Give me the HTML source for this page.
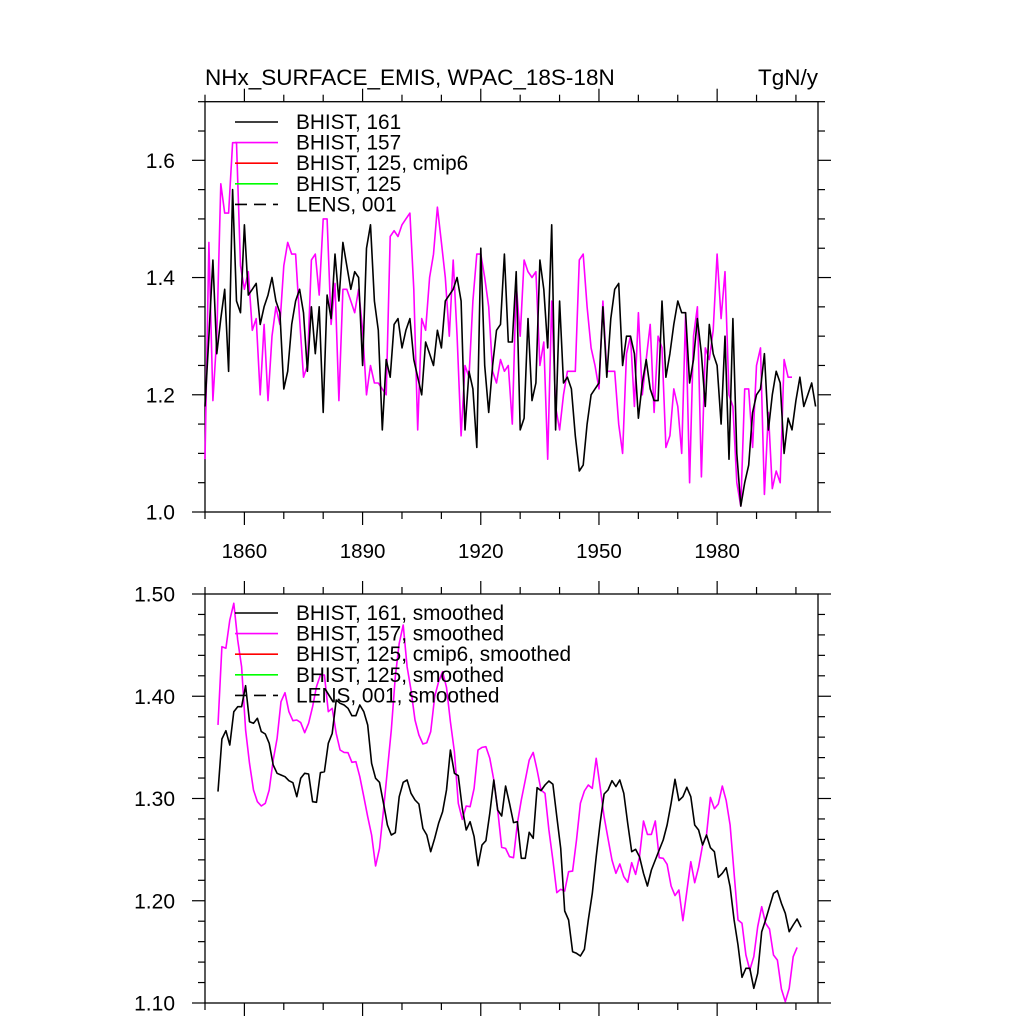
<!DOCTYPE html>
<html><head><meta charset="utf-8"><style>
html,body{margin:0;padding:0;background:#fff;}
svg{display:block;font-family:"Liberation Sans",sans-serif;}
</style></head><body>
<svg id="chart" width="1024" height="1024" viewBox="0 0 1024 1024">
<text x="205" y="85" font-size="22.5">NHx_SURFACE_EMIS, WPAC_18S-18N</text>
<text x="818" y="85" font-size="22.5" text-anchor="end">TgN/y</text>
<g id="top"></g><g id="bot"></g>
</svg>
<script>
const rawStartYear = 1850;
const rawBlack = [1.18,1.30,1.43,1.27,1.33,1.38,1.24,1.55,1.36,1.34,1.49,1.37,1.38,1.39,1.32,1.35,1.37,1.40,1.36,1.34,1.21,1.24,1.32,1.36,1.38,1.34,1.24,1.35,1.27,1.35,1.17,1.37,1.33,1.44,1.36,1.46,1.42,1.38,1.41,1.40,1.25,1.45,1.49,1.36,1.31,1.14,1.26,1.23,1.32,1.33,1.28,1.31,1.33,1.26,1.23,1.20,1.29,1.27,1.25,1.31,1.28,1.36,1.37,1.38,1.40,1.36,1.14,1.24,1.21,1.11,1.45,1.25,1.17,1.25,1.31,1.32,1.44,1.29,1.29,1.41,1.14,1.16,1.33,1.19,1.22,1.43,1.38,1.28,1.49,1.14,1.36,1.22,1.23,1.21,1.13,1.07,1.08,1.15,1.20,1.21,1.22,1.35,1.23,1.33,1.38,1.39,1.25,1.30,1.30,1.27,1.16,1.22,1.26,1.21,1.19,1.19,1.36,1.23,1.27,1.32,1.36,1.34,1.34,1.22,1.26,1.33,1.27,1.18,1.32,1.27,1.25,1.15,1.30,1.09,1.33,1.10,1.01,1.05,1.08,1.17,1.20,1.21,1.27,1.14,1.20,1.24,1.22,1.10,1.16,1.14,1.19,1.23,1.18,1.20,1.22,1.18];
const rawMagenta = [1.09,1.46,1.19,1.30,1.56,1.51,1.51,1.63,1.63,1.42,1.38,1.41,1.31,1.33,1.20,1.32,1.19,1.30,1.35,1.32,1.42,1.46,1.44,1.44,1.33,1.23,1.25,1.43,1.44,1.37,1.50,1.50,1.32,1.39,1.19,1.38,1.38,1.36,1.34,1.38,1.31,1.20,1.25,1.22,1.22,1.21,1.20,1.47,1.48,1.47,1.49,1.50,1.51,1.38,1.14,1.33,1.31,1.40,1.44,1.52,1.46,1.40,1.30,1.43,1.30,1.13,1.25,1.23,1.36,1.44,1.44,1.40,1.35,1.24,1.22,1.26,1.24,1.25,1.15,1.39,1.30,1.43,1.41,1.40,1.41,1.25,1.29,1.09,1.36,1.18,1.14,1.20,1.24,1.24,1.24,1.43,1.44,1.35,1.28,1.25,1.21,1.36,1.24,1.24,1.24,1.15,1.10,1.27,1.30,1.18,1.34,1.20,1.26,1.32,1.17,1.30,1.28,1.11,1.13,1.21,1.18,1.10,1.34,1.05,1.30,1.35,1.06,1.28,1.26,1.31,1.44,1.33,1.41,1.20,1.18,1.05,1.01,1.21,1.21,1.11,1.25,1.28,1.03,1.17,1.04,1.07,1.05,1.26,1.23,1.23];
const smoothStartYear = 1853.3;
const smoothBlack = [1.3067,1.3582,1.3663,1.3523,1.3849,1.3898,1.3898,1.4103,1.3751,1.3735,1.3784,1.3654,1.3631,1.354,1.3328,1.3246,1.323,1.3213,1.3174,1.3155,1.3018,1.3198,1.3246,1.324,1.2969,1.2963,1.3252,1.3262,1.354,1.3637,1.3963,1.3931,1.3914,1.3882,1.381,1.381,1.3914,1.3849,1.3719,1.3344,1.3198,1.3158,1.2953,1.2741,1.2643,1.2666,1.3018,1.3158,1.3181,1.3051,1.2985,1.2946,1.2708,1.2643,1.248,1.2611,1.2757,1.2871,1.3083,1.3474,1.3246,1.3223,1.2904,1.2692,1.2773,1.2627,1.2343,1.2545,1.2587,1.2855,1.3181,1.2887,1.2829,1.3122,1.2953,1.2764,1.2773,1.2415,1.2415,1.2669,1.2611,1.3106,1.3077,1.3132,1.3171,1.3139,1.2822,1.2513,1.19,1.1812,1.1502,1.1486,1.146,1.1525,1.1812,1.2072,1.2431,1.2757,1.3044,1.3083,1.3174,1.3116,1.3181,1.3051,1.2757,1.248,1.2503,1.2431,1.2268,1.2144,1.2301,1.2399,1.2496,1.2594,1.2741,1.2953,1.3188,1.2979,1.3018,1.311,1.3018,1.2741,1.2692,1.2545,1.2643,1.2519,1.248,1.2229,1.2268,1.2323,1.2137,1.1812,1.1567,1.1251,1.1339,1.1339,1.1144,1.129,1.1697,1.1812,1.1942,1.2072,1.2098,1.1975,1.1877,1.1697,1.1763,1.1822,1.174];
const smoothMagenta = [1.372,1.4485,1.447,1.4746,1.4909,1.455,1.4289,1.367,1.3344,1.3083,1.2969,1.2927,1.2953,1.3083,1.3376,1.3588,1.3947,1.4035,1.3849,1.3761,1.3768,1.3742,1.3644,1.3735,1.3898,1.4094,1.4208,1.4208,1.3849,1.3882,1.3637,1.3474,1.3451,1.3448,1.3354,1.336,1.3213,1.3018,1.2822,1.2643,1.234,1.2512,1.2887,1.3279,1.367,1.4191,1.4517,1.4697,1.4289,1.4061,1.3768,1.3621,1.3533,1.3546,1.3653,1.3996,1.4142,1.424,1.4087,1.3751,1.3458,1.2953,1.2796,1.2927,1.292,1.3099,1.3474,1.35,1.3507,1.3393,1.3181,1.2887,1.2522,1.2512,1.2431,1.2421,1.2757,1.2985,1.3181,1.3376,1.3451,1.3279,1.3083,1.305,1.2692,1.2398,1.2079,1.2112,1.2095,1.2284,1.229,1.2594,1.2953,1.3073,1.3132,1.3099,1.3393,1.3116,1.2822,1.261,1.2398,1.2268,1.2359,1.2235,1.218,1.2372,1.2258,1.2431,1.278,1.2649,1.2649,1.278,1.2421,1.2415,1.2356,1.2144,1.205,1.2105,1.1805,1.2089,1.2382,1.2177,1.2327,1.2545,1.2643,1.3011,1.29,1.2946,1.3122,1.2979,1.2741,1.2268,1.1812,1.1779,1.1469,1.1323,1.1453,1.1746,1.1942,1.1779,1.1724,1.1469,1.142,1.1137,1.1013,1.1143,1.1453,1.1544];
const xTickLabels = ["1860","1890","1920","1950","1980"];
const topYLabels = ["1.0","1.2","1.4","1.6"];
const botYLabels = ["1.10","1.20","1.30","1.40","1.50"];
const topLegend = ["BHIST, 161","BHIST, 157","BHIST, 125, cmip6","BHIST, 125","LENS, 001"];
const botLegend = ["BHIST, 161, smoothed","BHIST, 157, smoothed","BHIST, 125, cmip6, smoothed","BHIST, 125, smoothed","LENS, 001, smoothed"];
const legendColors = ["#000","#ff00ff","#ff0000","#00ff00","#000"];

const NS="http://www.w3.org/2000/svg";
function mk(tag,attrs,parent){const e=document.createElementNS(NS,tag);for(const k in attrs)e.setAttribute(k,attrs[k]);parent.appendChild(e);return e;}
const X0=205,X1=818,Y0YR=1850,PXYR=(818-205)/155.6;
function xs(yr){return X0+(yr-Y0YR)*PXYR;}

function panel(g,top,bot,vmin,vmax,yMajor,yMinor,yLabels,showX,legend,legY,dataSets,prefix){
  const ys=v=>bot-(v-vmin)/(vmax-vmin)*(bot-top);
  const frame=mk('rect',{x:X0,y:top,width:X1-X0,height:bot-top,fill:'none',stroke:'#000','stroke-width':1.3},g);
  
  
  for(let yr=1850;yr<=2005;yr+=10){
    const major=(yr-1860)%30===0;const L=major?13:7;const x=xs(yr);
    mk('line',{x1:x,y1:bot,x2:x,y2:bot+L,stroke:'#000','stroke-width':1.2},g);
    mk('line',{x1:x,y1:top,x2:x,y2:top-L,stroke:'#000','stroke-width':1.2},g);
  }
  if(showX){xTickLabels.forEach(s=>{const t=mk('text',{x:xs(+s),y:558,'font-size':20.5,'text-anchor':'middle'},g);t.textContent=s;
    
    });}
  const n=Math.round((vmax-vmin)/yMinor);
  for(let i=0;i<=n;i++){const v=vmin+i*yMinor;const major=Math.abs((v-vmin)/yMajor-Math.round((v-vmin)/yMajor))<1e-6;const L=major?13:7;const y=ys(v);
    mk('line',{x1:X0,y1:y,x2:X0-L,y2:y,stroke:'#000','stroke-width':1.2},g);
    mk('line',{x1:X1,y1:y,x2:X1+L,y2:y,stroke:'#000','stroke-width':1.2},g);}
  yLabels.forEach(s=>{const t=mk('text',{x:175,y:ys(+s)+7.5,'font-size':21,'text-anchor':'end'},g);t.textContent=s;
    
    });
  dataSets.forEach(d=>{
    const pts=d.vals.map((v,i)=>xs(d.start+i).toFixed(1)+','+ys(v).toFixed(1)).join(' ');
    const p=mk('polyline',{points:pts,fill:'none',stroke:d.color,'stroke-width':1.6,'stroke-linejoin':'round'},g);
    
    
  });
  legend.forEach((s,i)=>{const y=legY+i*20.6;
    const l=mk('line',{x1:235,y1:y,x2:278,y2:y,stroke:legendColors[i],'stroke-width':1.6},g);
    if(i===4)l.setAttribute('stroke-dasharray','12,7');
    
    
    const t=mk('text',{x:296,y:y+7,'font-size':20.8},g);t.textContent=s;
    
    });
}
panel(document.getElementById('top'),101.7,512,1.0,1.7,0.2,0.05,topYLabels,true,topLegend,122,
 [{vals:rawMagenta,start:rawStartYear,color:'#ff00ff',name:'series-bhist-157'},{vals:rawBlack,start:rawStartYear,color:'#000',name:'series-bhist-161'}],'top');
panel(document.getElementById('bot'),594,1003,1.1,1.5,0.1,0.02,botYLabels,false,botLegend,613,
 [{vals:smoothMagenta,start:smoothStartYear,color:'#ff00ff',name:'series-bhist-157-smoothed'},{vals:smoothBlack,start:smoothStartYear,color:'#000',name:'series-bhist-161-smoothed'}],'bottom');
</script>
</body></html>
